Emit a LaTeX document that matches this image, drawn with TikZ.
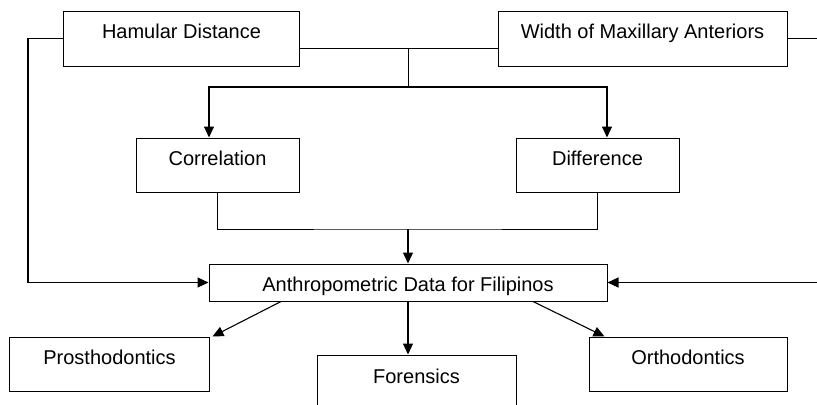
\documentclass[tikz,border=0pt]{standalone}
\usepackage{fontspec}
\setmainfont{Liberation Sans}
\usetikzlibrary{arrows.meta}

% boxes and connectors
\tikzset{
    box/.style={draw, line width=1bp, inner sep=0pt,
        text height=27.5bp, text depth=27.5bp},
    link/.style={line width=1bp},
    flow/.style={line width=1.1bp, -{Triangle[length=11bp,width=10bp]}},
}

\begin{document}
\begin{tikzpicture}[x=1bp, y=-1bp, font=\fontsize{20bp}{24bp}\selectfont]
    \useasboundingbox (0,0) rectangle (817,404);

    % Measurements:
    \node [box, minimum width=235bp] (hamular) at (181.5,38.5) {Hamular Distance};
    \node [box, minimum width=289bp] (width) at (642.5,38.5) {Width of Maxillary Anteriors};

    % Analysis:
    \node [box, minimum width=163bp, text depth=26.5bp] (corr) at (217.5,165) {Correlation};
    \node [box, minimum width=163bp, text depth=26.5bp] (diff) at (597.5,165) {Difference};

    % Result and its uses:
    \node [box, minimum width=398bp, text height=27bp, text depth=10bp] (anthro) at (408,282.5) {Anthropometric Data for Filipinos};
    \node [box, minimum width=199bp, text depth=26.5bp] (prostho) at (109.5,364) {Prosthodontics};
    \node [box, minimum width=199bp, text height=28bp, text depth=27bp] (forensic) at (416.5,382.5) {Forensics};
    \node [box, minimum width=198bp, text depth=26.5bp] (ortho) at (688,364) {Orthodontics};

    % Junctions of the lines:
    \coordinate (join) at (408,48);
    \coordinate (split) at (408,87);
    \coordinate (merge) at (408,229);
    \coordinate (leftbus) at (28,0);
    \coordinate (rightbus) at (822,0);

    % Top: both measurements go to the two analyses
    \draw [link] (hamular.east |- join) -- (width.west |- join);
    \draw [link] (join) -- (split);
    \draw [flow] (split) -| ([xshift=-8.5bp]corr.north);
    \draw [flow] (split) -| ([xshift=9.5bp]diff.north);

    % Middle: analyses merge into the result
    \draw [link] (corr.south) |- (merge) -| (diff.south);
    \draw [flow] (merge) -- (anthro.north);

    % Sides: measurements also feed the result directly
    \draw [flow] (hamular.west) -| (leftbus |- anthro.west) -- (anthro.west);
    \draw [flow] (width.east) -| (rightbus |- anthro.east) -- (anthro.east);

    % Bottom: uses of the data
    \draw [flow] ([xshift=-127bp]anthro.south) -- ([xshift=3bp]prostho.north east);
    \draw [flow] (anthro.south) -- (anthro.south |- forensic.north);
    \draw [flow] ([xshift=125bp]anthro.south) -- ([xshift=16bp]ortho.north west);
\end{tikzpicture}
\end{document}
